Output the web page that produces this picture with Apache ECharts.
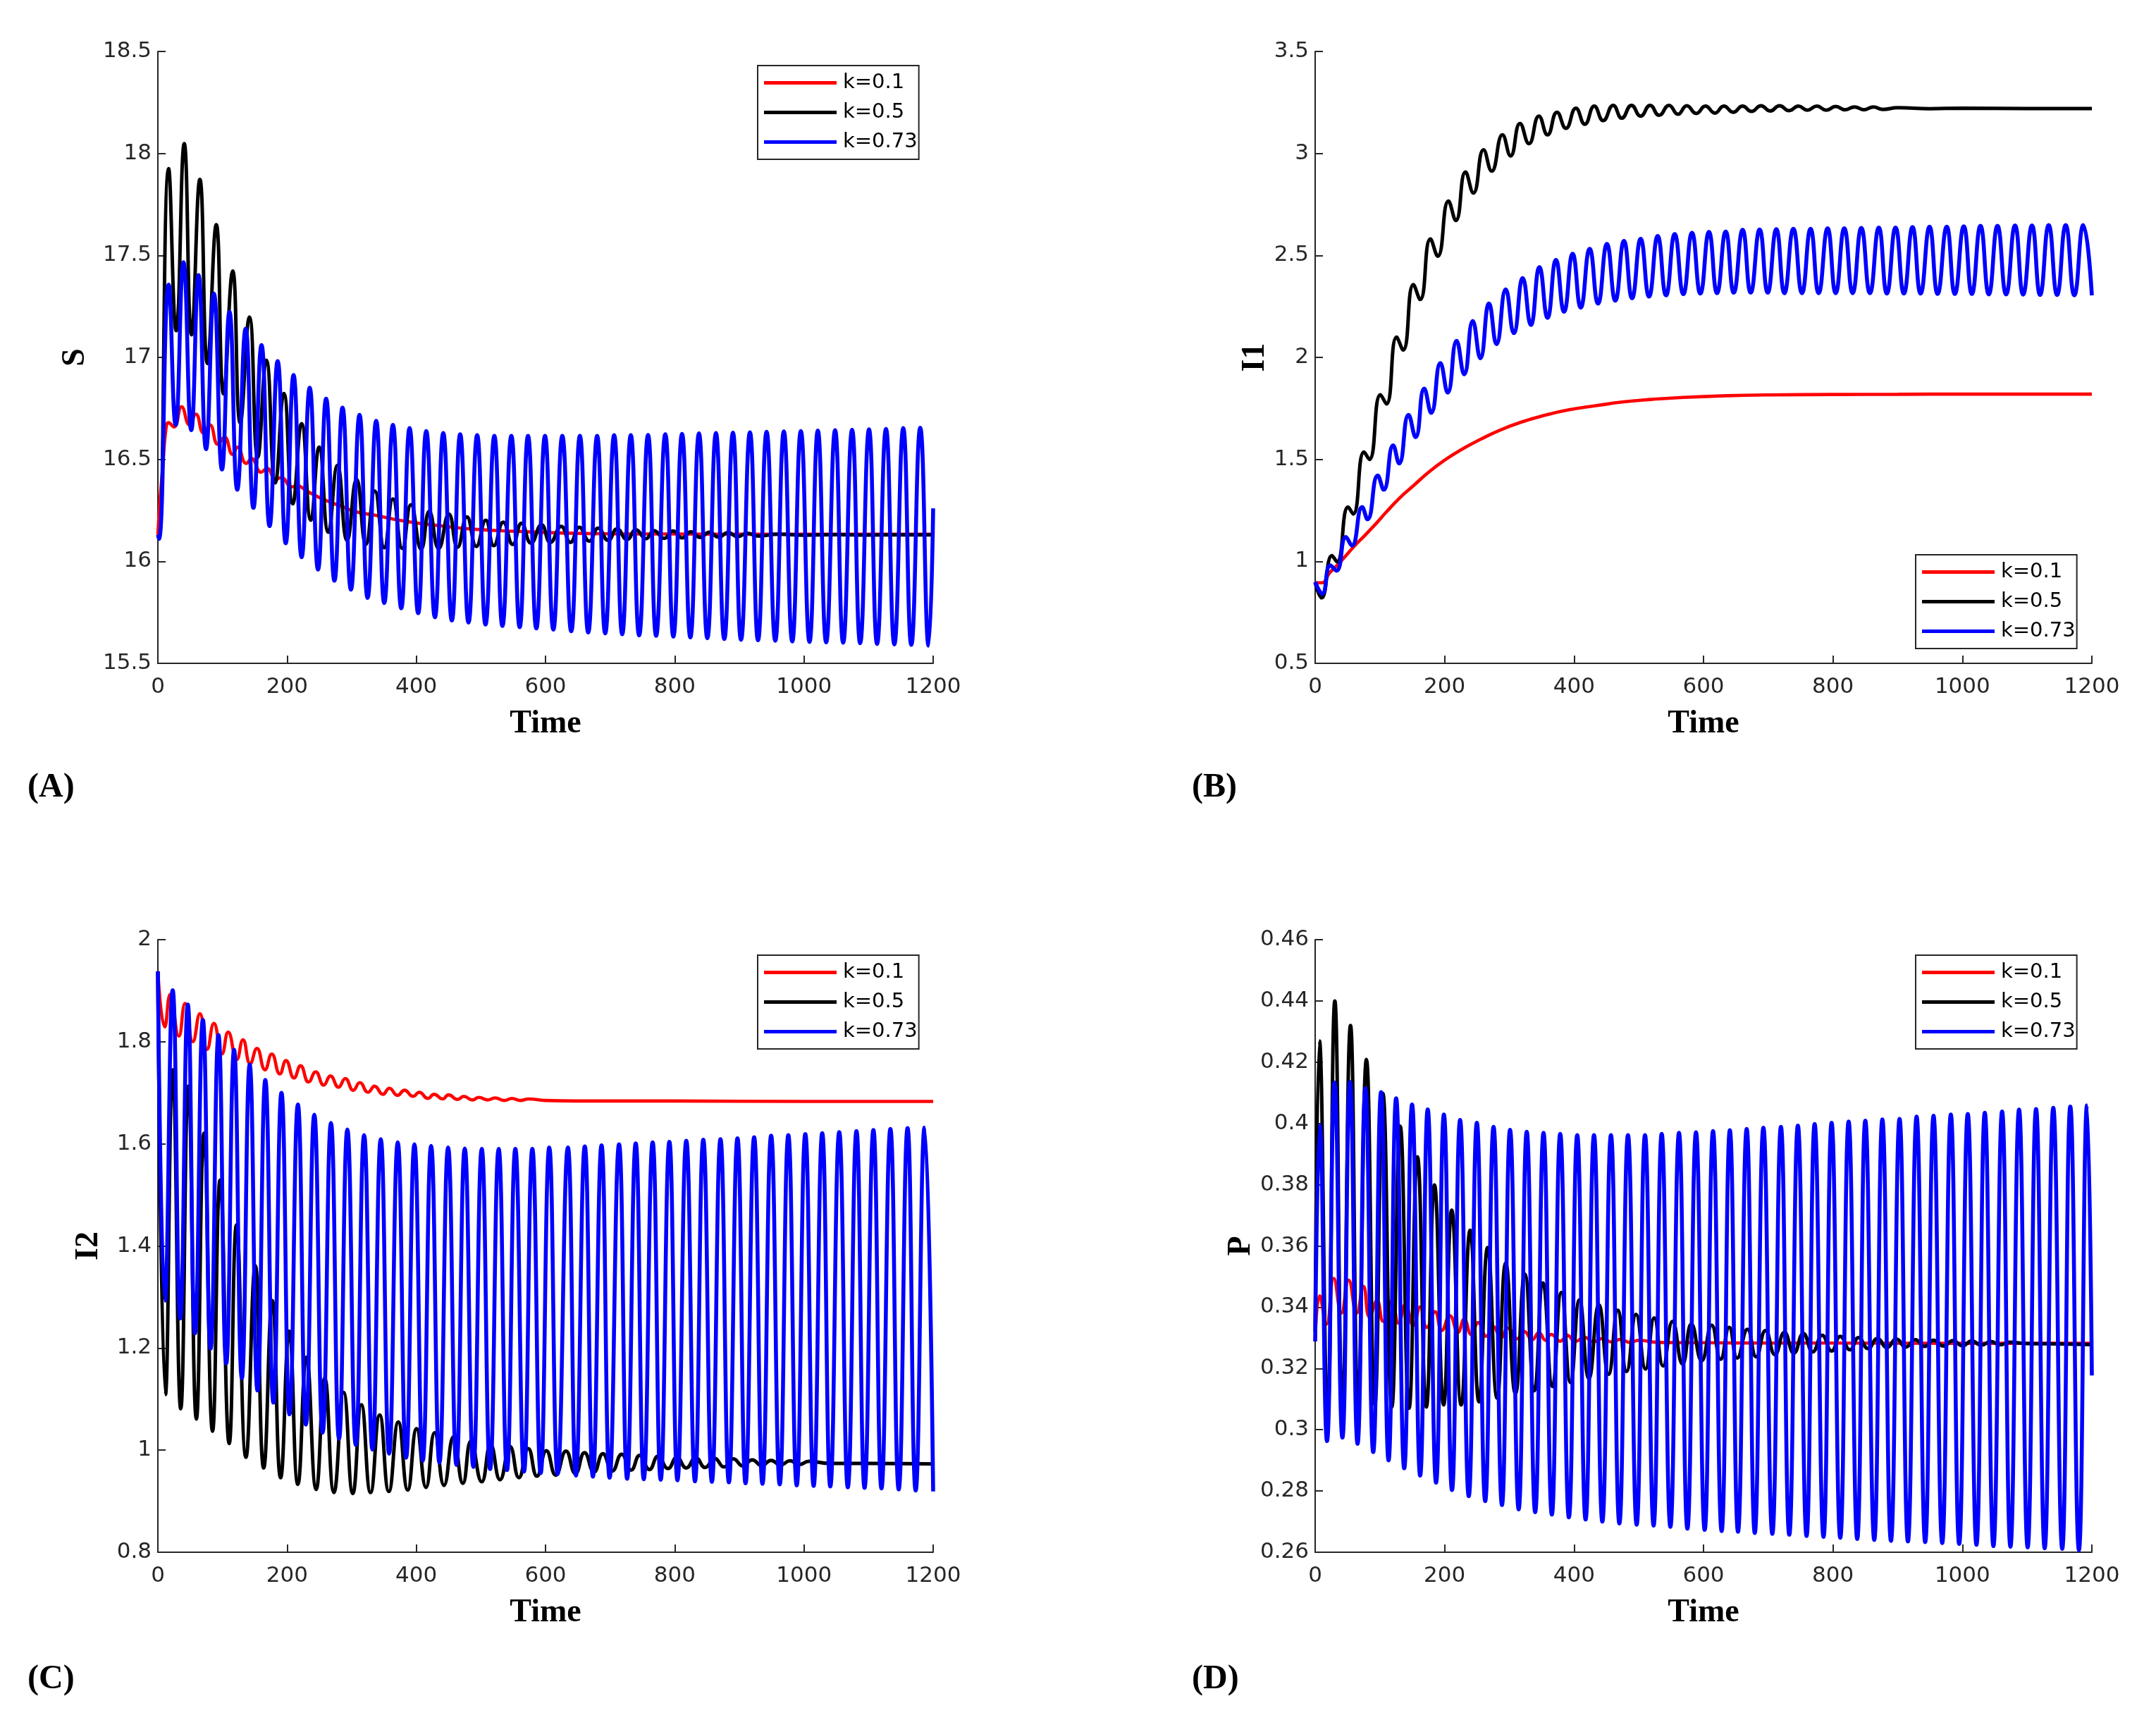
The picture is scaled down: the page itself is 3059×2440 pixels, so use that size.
<!DOCTYPE html>
<html>
<head>
<meta charset="utf-8">
<script src="https://cdn.jsdelivr.net/npm/echarts@6/dist/echarts.min.js"></script>
<style>
html,body{margin:0;padding:0;background:#fff;}
#chart{width:3059px;height:2440px;}
</style>
</head>
<body>
<div id="chart"></div>
<script>
// ---------- DATA ([time, value] at extrema) ----------
const seriesNames = ['k=0.1', 'k=0.5', 'k=0.73'];
const panelLabels = ['(A)', '(B)', '(C)', '(D)'];
const yNames = ['S', 'I1', 'I2', 'P'];
const xName = 'Time';
const timeTicks = [0, 200, 400, 600, 800, 1000, 1200];
const yTicksA = [15.5, 16, 16.5, 17, 17.5, 18, 18.5];
const yTicksB = [0.5, 1, 1.5, 2, 2.5, 3, 3.5];
const yTicksC = [0.8, 1, 1.2, 1.4, 1.6, 1.8, 2];
const yTicksD = [0.26, 0.28, 0.3, 0.32, 0.34, 0.36, 0.38, 0.4, 0.42, 0.44, 0.46];

// Panel A: S
const S_k01 = [[0,16.13],[3.3,16.3],[7.5,16.46],[12.5,16.65],[16.5,16.68],[25,16.659],[36.7,16.758],[49,16.669],[58.8,16.722],[70.8,16.629],[80.4,16.669],[92.9,16.573],[103,16.609],[115.8,16.524],[123.3,16.56],[136.7,16.48],[145,16.504],[159.6,16.437],[169,16.456],[182.5,16.401],[190.8,16.411],[207.5,16.365],[214.6,16.371],[232.5,16.341],[257.5,16.302],[282.5,16.272],[307.5,16.242],[336.7,16.226],[365.8,16.206],[403,16.187],[441,16.173],[491,16.157],[557.5,16.147],[624,16.139],[700,16.135],[800,16.134],[900,16.133],[1000,16.133],[1100,16.133],[1200,16.133]];
const S_k05 = [[0,16.13],[2,16.12],[16.7,17.925],[28.3,17.131],[40.8,18.048],[52.1,17.111],[65,17.873],[76.7,16.97],[90.4,17.651],[101.7,16.821],[115.8,17.423],[127.5,16.679],[141.7,17.198],[154.6,16.51],[167.9,16.986],[181.7,16.385],[195,16.823],[208.8,16.282],[222.5,16.675],[236.7,16.202],[249.6,16.56],[263.8,16.143],[277.9,16.47],[292.9,16.103],[307.5,16.401],[322.1,16.083],[335.8,16.345],[350.4,16.067],[363.8,16.306],[378.3,16.063],[391.7,16.278],[407.5,16.06],[420,16.246],[434.6,16.063],[450.4,16.232],[463.8,16.069],[478.3,16.218],[492.9,16.073],[507.5,16.202],[520,16.077],[534.6,16.192],[549.2,16.083],[562.9,16.187],[577.5,16.089],[593.8,16.179],[607.5,16.093],[624.2,16.171],[638.6,16.093],[652.3,16.167],[667.8,16.099],[681.5,16.163],[697,16.103],[710.7,16.159],[726.2,16.107],[739.9,16.155],[755.4,16.111],[767.9,16.151],[783.7,16.113],[797.1,16.149],[811.7,16.115],[825,16.145],[839.6,16.117],[853.4,16.143],[868,16.119],[882.6,16.141],[897.2,16.121],[911.8,16.138],[930,16.124],[960,16.133],[1000,16.128],[1050,16.131],[1100,16.129],[1150,16.13],[1200,16.13]];
const S_k073 = [[0,16.13],[1.7,16.11],[16.7,17.357],[27.5,16.669],[39.6,17.466],[51.7,16.643],[62.9,17.403],[74.6,16.55],[86.7,17.313],[99.2,16.45],[110.8,17.224],[122.9,16.351],[135.8,17.141],[147.9,16.262],[160.4,17.06],[172.9,16.173],[185.4,16.982],[197.9,16.089],[210,16.913],[222.5,16.02],[235,16.851],[247.9,15.96],[260.4,16.798],[273.3,15.905],[285.8,16.754],[298.8,15.861],[312.1,16.718],[324.6,15.821],[337.9,16.689],[350.4,15.796],[363.8,16.669],[376.7,15.77],[389.6,16.653],[402.9,15.746],[415.4,16.639],[428.8,15.726],[441.7,16.629],[455,15.71],[467.9,16.623],[480.8,15.7],[494.2,16.619],[507.1,15.69],[520.8,16.615],[533.3,15.683],[547.1,16.615],[560,15.677],[572.9,16.615],[585.8,15.671],[599.2,16.615],[612.1,15.665],[626,16.615],[639.8,15.657],[653.2,16.615],[666.1,15.651],[679.9,16.615],[692.4,15.647],[706.2,16.619],[718.7,15.643],[732,16.619],[744.9,15.637],[758.7,16.62],[771.2,15.635],[785.4,16.623],[797.9,15.631],[811.3,16.625],[824.2,15.627],[837.5,16.627],[850.5,15.623],[863.8,16.629],[876.7,15.619],[890.1,16.631],[902.6,15.615],[916.4,16.633],[928.9,15.613],[942.2,16.635],[955.6,15.611],[968.9,16.637],[981.9,15.607],[995.2,16.639],[1008.6,15.605],[1021.5,16.641],[1034.4,15.603],[1048.2,16.643],[1060.7,15.601],[1074.5,16.645],[1087,15.599],[1100.7,16.647],[1113.2,15.595],[1127,16.649],[1139.9,15.593],[1153.7,16.653],[1166.2,15.591],[1180,16.655],[1192.9,15.587],[1200,16.26]];

// Panel B: I1
const I1_k01 = [[0,0.895],[10,0.895],[22.5,0.944],[35,0.984],[47.5,1.028],[60,1.073],[76.7,1.127],[93.4,1.183],[110,1.242],[130.9,1.312],[151.8,1.371],[176.8,1.441],[201.8,1.5],[226.9,1.55],[256,1.599],[285.2,1.643],[318.6,1.683],[352,1.714],[393.7,1.744],[435.4,1.764],[477,1.782],[518.8,1.794],[568.8,1.804],[635.5,1.812],[700,1.816],[800,1.818],[900,1.819],[1000,1.82],[1100,1.82],[1200,1.82]];
const I1_k05 = [[0,0.895],[10,0.821],[25.9,1.028],[33.8,0.998],[50.9,1.266],[58.8,1.232],[75.5,1.536],[83.8,1.5],[100.9,1.817],[110.1,1.772],[125.9,2.099],[135.9,2.036],[151.8,2.357],[162.2,2.284],[178.1,2.581],[189.3,2.496],[206,2.766],[217.3,2.671],[232.3,2.909],[244.4,2.806],[260.2,3.018],[272.7,2.913],[289.4,3.091],[301.9,2.988],[316.5,3.147],[330.3,3.048],[345.7,3.183],[359,3.091],[373.6,3.202],[387.4,3.123],[402.8,3.222],[416.6,3.143],[431.2,3.232],[445,3.161],[460.4,3.236],[473.7,3.173],[488.7,3.236],[502.9,3.183],[517.5,3.236],[531.3,3.187],[546.7,3.236],[560.5,3.192],[574.2,3.234],[588.8,3.196],[603,3.232],[617.6,3.198],[631.4,3.232],[645.8,3.202],[660.4,3.232],[674.2,3.206],[688.8,3.234],[702.9,3.208],[717.5,3.234],[732.1,3.21],[746.7,3.232],[760.4,3.212],[775,3.232],[789.6,3.212],[804.2,3.23],[818.8,3.214],[833.3,3.228],[847.9,3.214],[862.5,3.228],[877.1,3.216],[900,3.224],[950,3.219],[1000,3.222],[1100,3.22],[1200,3.22]];
const I1_k073 = [[0,0.899],[10.8,0.841],[23.4,0.98],[32.9,0.954],[47.5,1.119],[56.7,1.077],[72.6,1.266],[80.9,1.206],[96.7,1.421],[105.9,1.351],[120.5,1.569],[129.7,1.48],[144.3,1.718],[155.1,1.609],[168.5,1.847],[179.3,1.728],[193.5,1.972],[204.8,1.827],[218.5,2.081],[230.2,1.917],[243.5,2.179],[255.2,1.996],[268.6,2.264],[280.2,2.065],[294.4,2.333],[306.9,2.119],[320.7,2.389],[333.2,2.159],[346.5,2.442],[359,2.194],[372,2.478],[384.5,2.224],[397.8,2.508],[410.3,2.244],[424.1,2.532],[437,2.264],[450.8,2.556],[463.7,2.278],[477.1,2.571],[489.6,2.29],[502.9,2.581],[515.8,2.298],[529.2,2.595],[542.1,2.304],[555.5,2.605],[568.8,2.31],[582.2,2.611],[595.1,2.313],[608.4,2.615],[620.9,2.315],[634.3,2.617],[646.7,2.317],[660.4,2.625],[672.9,2.317],[686.7,2.627],[699.2,2.317],[712.5,2.629],[725,2.315],[738.8,2.631],[752.1,2.315],[765.4,2.631],[777.9,2.315],[791.7,2.633],[804.2,2.315],[817.5,2.633],[830.4,2.315],[843.8,2.635],[857.1,2.315],[870.8,2.637],[883.3,2.313],[896.7,2.637],[909.6,2.313],[922.9,2.639],[935.4,2.313],[949.2,2.641],[961.7,2.311],[975.8,2.641],[988.3,2.311],[1002.1,2.643],[1014.6,2.311],[1027.9,2.645],[1040.8,2.309],[1054.2,2.645],[1067.5,2.309],[1081.3,2.647],[1093.8,2.308],[1107.5,2.647],[1120,2.306],[1133.3,2.649],[1146.3,2.306],[1159.6,2.649],[1172.9,2.304],[1186.7,2.649],[1200,2.304]];

// Panel C: I2
const I2_k01 = [[0,1.938],[10.8,1.829],[19.2,1.893],[32.5,1.811],[42.1,1.875],[54.2,1.8],[65,1.855],[76.3,1.785],[86.7,1.836],[99.2,1.776],[108.8,1.819],[122.1,1.765],[131.7,1.804],[142.9,1.757],[153.3,1.787],[165.8,1.745],[176.3,1.776],[188.8,1.737],[198.3,1.763],[210.8,1.729],[220.8,1.753],[233.3,1.721],[244.2,1.741],[256.7,1.715],[267.1,1.733],[279.6,1.711],[290,1.728],[302.5,1.705],[312.5,1.72],[325.4,1.701],[335.4,1.713],[348.3,1.697],[358.3,1.709],[370.8,1.695],[381.7,1.705],[395,1.693],[404.6,1.701],[417.9,1.689],[427.5,1.697],[440.8,1.688],[450,1.696],[463.8,1.687],[473.3,1.693],[486.7,1.686],[497,1.691],[510,1.686],[522,1.69],[536,1.685],[548,1.689],[561,1.685],[574,1.688],[600,1.685],[650,1.684],[700,1.684],[800,1.684],[1000,1.683],[1200,1.683]];
const I2_k05 = [[0,1.938],[11.7,1.109],[22.9,1.745],[35.4,1.081],[47.1,1.713],[59.6,1.061],[71.3,1.621],[84.6,1.037],[96.3,1.529],[110.4,1.013],[121.7,1.441],[136.3,0.986],[150.8,1.361],[163.8,0.965],[177.1,1.293],[190,0.946],[203.3,1.233],[216.7,0.933],[230,1.182],[245,0.923],[258.3,1.141],[272.5,0.917],[287.5,1.113],[301.7,0.915],[315,1.089],[329.2,0.917],[343.3,1.069],[357.5,0.919],[372.1,1.055],[386.7,0.922],[400.4,1.042],[415,0.927],[428.3,1.034],[442.9,0.931],[457.5,1.026],[472.1,0.935],[484.6,1.018],[501.3,0.938],[515,1.011],[529.6,0.942],[545,1.007],[558.8,0.946],[573.3,1.003],[586.7,0.949],[601.3,0.999],[615.8,0.951],[631.7,0.998],[646.3,0.954],[660.4,0.995],[675,0.957],[688.8,0.993],[703.3,0.959],[717.9,0.992],[732.5,0.961],[745.8,0.99],[760.8,0.962],[774.2,0.988],[789.6,0.964],[803.3,0.986],[817.9,0.965],[832.5,0.985],[847.1,0.966],[861.7,0.984],[876.3,0.967],[890.8,0.983],[905.4,0.969],[920,0.981],[934.6,0.97],[949.2,0.98],[963.8,0.971],[978.3,0.979],[992.9,0.972],[1007.5,0.978],[1040,0.974],[1100,0.974],[1200,0.973]];
const I2_k073 = [[0,1.938],[10.8,1.293],[22.9,1.901],[34.6,1.258],[46.3,1.873],[57.5,1.229],[69.6,1.843],[81.7,1.199],[93.8,1.813],[105.8,1.17],[117.9,1.784],[130,1.141],[142.1,1.755],[154.2,1.117],[166.3,1.725],[178.8,1.093],[191.3,1.7],[203.8,1.07],[216.7,1.677],[229.2,1.05],[242.1,1.657],[255,1.034],[267.9,1.641],[280.4,1.022],[293.3,1.628],[306.3,1.01],[319.2,1.617],[332.1,1.001],[345,1.609],[357.9,0.993],[371.3,1.603],[384.2,0.985],[397.1,1.599],[410,0.979],[422.9,1.596],[435.8,0.975],[449.2,1.593],[462.1,0.971],[475,1.591],[488.3,0.967],[501.3,1.59],[514.2,0.963],[527.5,1.59],[540.4,0.961],[553.3,1.59],[566.7,0.958],[579.6,1.59],[592.5,0.955],[605.8,1.593],[618.8,0.953],[634.6,1.593],[647,0.95],[660.8,1.595],[673.3,0.948],[686.7,1.597],[699.2,0.946],[713.8,1.599],[726.3,0.944],[739.6,1.601],[752.1,0.943],[765.8,1.603],[778.3,0.942],[791.7,1.604],[804.2,0.941],[817.9,1.606],[831.3,0.939],[844.2,1.608],[857.5,0.938],[870.8,1.609],[883.8,0.937],[897.1,1.611],[909.6,0.935],[922.9,1.613],[935.8,0.934],[949.2,1.616],[962.5,0.933],[975.8,1.617],[988.8,0.931],[1002.1,1.619],[1015,0.93],[1028.3,1.621],[1040.8,0.929],[1054.6,1.623],[1067.9,0.927],[1081.3,1.625],[1093.8,0.926],[1107.5,1.627],[1120,0.925],[1133.8,1.629],[1146.7,0.923],[1160.4,1.631],[1172.9,0.921],[1186.7,1.632],[1200,0.919]];

// Panel D: P
const P_k01 = [[0,0.3288],[7.1,0.3437],[17.5,0.3345],[28.8,0.3494],[40.5,0.3381],[51.7,0.3488],[64.2,0.3381],[74.6,0.3468],[84,0.3368],[95.5,0.3421],[105.1,0.3354],[118.4,0.3421],[128.9,0.3348],[139.3,0.3408],[151.8,0.3341],[162.2,0.3401],[172.6,0.3334],[185.2,0.3385],[195.6,0.3324],[208.1,0.3372],[220.6,0.3318],[230.2,0.3361],[241.5,0.331],[251.9,0.335],[264.4,0.3305],[274.8,0.3337],[287.3,0.3301],[297.7,0.3332],[312.3,0.3297],[322.8,0.3321],[335.3,0.3294],[345.7,0.3317],[356.1,0.3292],[364.5,0.3311],[379,0.3289],[389.5,0.3308],[402,0.3288],[416,0.3302],[430,0.3287],[444,0.3298],[458,0.3286],[472,0.3295],[486,0.3285],[500,0.3292],[530,0.3285],[600,0.3284],[700,0.3283],[800,0.3283],[1000,0.3282],[1200,0.3282]];
const P_k05 = [[0,0.3321],[6.7,0.4269],[19.2,0.3054],[30.4,0.44],[42.1,0.3081],[54.6,0.432],[66.3,0.3094],[79.2,0.4209],[92.2,0.3081],[104.7,0.4098],[118.4,0.3074],[131.4,0.3991],[145.1,0.307],[158,0.3891],[171.8,0.3074],[184.3,0.3799],[198.5,0.3081],[211,0.3717],[225.6,0.3081],[239.4,0.3651],[253.1,0.3091],[266.5,0.3595],[281.1,0.3103],[294.4,0.3545],[309.4,0.3117],[324,0.3508],[338.6,0.3127],[352,0.3479],[366.6,0.3141],[380.3,0.3448],[394.5,0.3154],[408.3,0.3424],[422.9,0.3167],[438.3,0.3408],[453.3,0.3181],[467.5,0.339],[481.2,0.319],[495.8,0.3377],[510.4,0.3198],[523.8,0.3365],[537.5,0.3208],[552.1,0.3354],[567.6,0.3214],[581.3,0.3345],[597.2,0.3225],[612.6,0.3341],[626.4,0.323],[639.7,0.3334],[652.1,0.3234],[667.9,0.3328],[681.3,0.3238],[695.8,0.3324],[710.4,0.3245],[725,0.3318],[739.6,0.325],[754.2,0.3314],[768.8,0.3254],[783.3,0.3308],[797.9,0.3257],[811.3,0.3305],[826.3,0.3261],[839.6,0.3301],[854.2,0.3265],[868.8,0.3298],[883.3,0.3268],[897.9,0.3296],[912.5,0.327],[927.1,0.3294],[941.7,0.3272],[955.4,0.3292],[970.8,0.3273],[985.4,0.3291],[1000,0.3274],[1014.6,0.329],[1029,0.3276],[1044,0.3288],[1058,0.3277],[1073,0.3286],[1100,0.3281],[1150,0.328],[1200,0.3278]];
const P_k073 = [[0,0.3288],[7.1,0.3995],[18.3,0.2963],[30,0.4133],[42.1,0.2974],[53.8,0.4135],[65.5,0.2954],[77.6,0.4115],[89.7,0.2927],[101.8,0.4102],[113.4,0.29],[125.1,0.4082],[137.6,0.2874],[149.7,0.4062],[162.2,0.285],[173.9,0.4046],[186.8,0.2827],[198.9,0.4029],[211.4,0.2803],[223.9,0.4011],[237.3,0.2783],[249.8,0.4002],[262.7,0.2767],[275.6,0.3989],[288.6,0.2754],[301.1,0.3979],[314.4,0.274],[326.9,0.3973],[339.9,0.2731],[352.8,0.3969],[365.7,0.2723],[378.6,0.3966],[392,0.2714],[404.9,0.3962],[417.8,0.2707],[430.8,0.3962],[443.7,0.27],[457,0.3962],[470,0.2694],[483.3,0.3962],[496.7,0.269],[509.6,0.3962],[522.9,0.2687],[535.4,0.3966],[548.8,0.2683],[562.1,0.3969],[575.1,0.2677],[588.4,0.3971],[601.8,0.2673],[614.7,0.3975],[628,0.2669],[640.7,0.3978],[653.3,0.2667],[666.7,0.3982],[679.2,0.2663],[692.5,0.3986],[706.3,0.266],[719.6,0.3989],[732.5,0.2657],[745.8,0.3993],[759.2,0.2653],[771.7,0.3998],[785.4,0.265],[797.9,0.4002],[811.3,0.2647],[824.2,0.4006],[837.5,0.2643],[850,0.4009],[863.8,0.264],[876.3,0.4013],[889.6,0.2637],[902.9,0.4015],[915.8,0.2635],[929.2,0.4022],[942.5,0.2633],[955.4,0.4025],[968.8,0.263],[982.1,0.4029],[995,0.2627],[1008.3,0.4031],[1021.7,0.2624],[1034.6,0.4035],[1047.9,0.262],[1061.3,0.4039],[1074.2,0.2618],[1087.5,0.4045],[1100.8,0.2616],[1113.8,0.4047],[1127.1,0.2613],[1140.4,0.4051],[1154.2,0.2611],[1166.7,0.4055],[1180,0.2607],[1192.5,0.4059],[1200,0.3177]];

const panelData = [
  [S_k01, S_k05, S_k073],
  [I1_k01, I1_k05, I1_k073],
  [I2_k01, I2_k05, I2_k073],
  [P_k01, P_k05, P_k073]
];
const yTickLists = [yTicksA, yTicksB, yTicksC, yTicksD];

// ---------- LAYOUT / STYLE ----------
const colors = ['#ff0000', '#000000', '#0000ff'];
const lineWidths = [4.6, 5, 5.6];
const grids = [
  {left: 224, top: 73, width: 1100, height: 868},
  {left: 1866, top: 73, width: 1102, height: 868},
  {left: 224, top: 1333, width: 1100, height: 869},
  {left: 1866, top: 1333, width: 1102, height: 869}
];
const legendPos = [
  {left: 1075, top: 93},
  {left: 2718, top: 787},
  {left: 1075, top: 1355},
  {left: 2718, top: 1355}
];
const yNameGaps = [94, 61, 75, 80];
const labelPos = [
  {left: 39, top: 1094},
  {left: 1691, top: 1094},
  {left: 39, top: 2359},
  {left: 1691, top: 2359}
];
const axisColor = '#262626';
const tickFont = 'DejaVu Sans';
const serifFont = 'Liberation Serif';
const plainNumber = v => String(+v.toFixed(6));

const option = {
  backgroundColor: '#ffffff',
  animation: false,
  grid: grids.map(g => Object.assign({containLabel: false}, g)),
  xAxis: grids.map((g, i) => ({
    type: 'value',
    gridIndex: i,
    min: timeTicks[0],
    max: timeTicks[timeTicks.length - 1],
    interval: timeTicks[1] - timeTicks[0],
    name: xName,
    nameLocation: 'middle',
    nameGap: 63,
    nameTextStyle: {fontFamily: serifFont, fontWeight: 'bold', fontSize: 46, color: '#000'},
    axisLine: {onZero: false, lineStyle: {color: axisColor, width: 2}},
    axisTick: {inside: true, length: 11, lineStyle: {color: axisColor, width: 2}},
    axisLabel: {fontFamily: tickFont, fontSize: 31, color: axisColor, margin: 18, showMinLabel: true, showMaxLabel: true, formatter: plainNumber},
    splitLine: {show: false}
  })),
  yAxis: grids.map((g, i) => {
    const t = yTickLists[i];
    return {
      type: 'value',
      gridIndex: i,
      min: t[0],
      max: t[t.length - 1],
      interval: +(t[1] - t[0]).toFixed(6),
      name: yNames[i],
      nameLocation: 'middle',
      nameRotate: 90,
      nameGap: yNameGaps[i],
      nameTextStyle: {fontFamily: serifFont, fontWeight: 'bold', fontSize: 46, color: '#000'},
      axisLine: {show: true, onZero: false, lineStyle: {color: axisColor, width: 2}},
      axisTick: {show: true, inside: true, length: 11, lineStyle: {color: axisColor, width: 2}},
      axisLabel: {fontFamily: tickFont, fontSize: 31, color: axisColor, margin: 9, showMinLabel: true, showMaxLabel: true, formatter: plainNumber},
      splitLine: {show: false}
    };
  }),
  legend: legendPos.map(p => ({
    left: p.left,
    top: p.top,
    orient: 'vertical',
    data: seriesNames.map(n => ({name: n, icon: 'rect'})),
    itemWidth: 103,
    itemHeight: 5,
    itemGap: 13,
    padding: [10, 2, 10, 9],
    borderColor: axisColor,
    borderWidth: 2,
    backgroundColor: '#ffffff',
    selectedMode: false,
    textStyle: {fontFamily: tickFont, fontSize: 29, lineHeight: 29, color: '#000', padding: [0, 0, 0, 4]}
  })),
  graphic: panelLabels.map((txt, i) => ({
    type: 'text',
    left: labelPos[i].left,
    top: labelPos[i].top,
    style: {text: txt, font: 'bold 48px "' + serifFont + '"', fill: '#000'}
  })),
  series: []
};

panelData.forEach((sets, i) => {
  sets.forEach((d, j) => {
    option.series.push({
      type: 'line',
      name: seriesNames[j],
      xAxisIndex: i,
      yAxisIndex: i,
      data: d,
      symbol: 'none',
      showSymbol: false,
      smooth: 0.5,
      color: colors[j],
      itemStyle: {color: colors[j]},
      lineStyle: {color: colors[j], width: lineWidths[j]},
      z: 2 + j
    });
  });
});

const chart = echarts.init(document.getElementById('chart'), null, {renderer: 'canvas'});
chart.setOption(option);
</script>
</body>
</html>
